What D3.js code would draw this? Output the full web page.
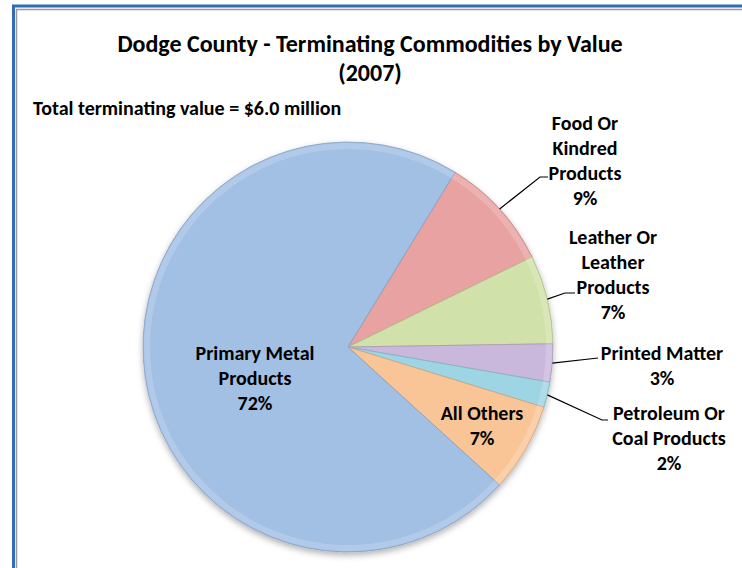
<!DOCTYPE html>
<html>
<head>
<meta charset="utf-8">
<script src="https://cdn.jsdelivr.net/npm/d3@7"></script>
<style>
  html, body { margin: 0; padding: 0; background: #fff; }
  svg { display: block; }
  text { font-family: Carlito, Calibri, Lato, "Liberation Sans", sans-serif; font-weight: bold; fill: #000; }
</style>
</head>
<body>
<svg id="chart" width="742" height="568"></svg>
<script>
// ---- data ----
const categories = ["Food Or Kindred Products", "Leather Or Leather Products", "Printed Matter",
                    "Petroleum Or Coal Products", "All Others", "Primary Metal Products"];
const labelLines = [["Food Or", "Kindred", "Products"], ["Leather Or", "Leather", "Products"], ["Printed Matter"],
                    ["Petroleum Or", "Coal Products"], ["All Others"], ["Primary Metal", "Products"]];
const percents = [9, 7, 3, 2, 7, 72];
const colors = ["#e8a2a1", "#d0e1a9", "#c9b8dc", "#9dd5e4", "#f9c597", "#a2bfe4"];
const titleLines = ["Dodge County - Terminating Commodities by Value", "(2007)"];
const subtitle = "Total terminating value = $6.0 million";

// ---- layout ----
const svg = d3.select("#chart");
const cx = 348, cy = 347, R = 205;

// frame
svg.append("rect").attr("x", 13.5).attr("y", 6).attr("width", 800).attr("height", 600)
  .attr("fill", "none").attr("stroke", "#2f6db5").attr("stroke-width", 3);
svg.append("rect").attr("x", 16.5).attr("y", 9.5).attr("width", 800).attr("height", 600)
  .attr("fill", "none").attr("stroke", "#9a9a9a").attr("stroke-width", 1.5);

// titles
svg.append("text").attr("x", 370).attr("y", 52).attr("text-anchor", "middle")
  .style("font-size", "24px").text(titleLines[0]);
svg.append("text").attr("x", 370).attr("y", 81).attr("text-anchor", "middle")
  .style("font-size", "24px").text(titleLines[1]);
svg.append("text").attr("x", 33).attr("y", 115).attr("text-anchor", "start")
  .style("font-size", "20px").text(subtitle);

// defs
const defs = svg.append("defs");
const f = defs.append("filter").attr("id", "shadow").attr("x", "-20%").attr("y", "-20%")
  .attr("width", "140%").attr("height", "140%");
f.append("feDropShadow").attr("dx", 0).attr("dy", 3).attr("stdDeviation", 3)
  .attr("flood-color", "#000").attr("flood-opacity", 0.3);

const data = categories.map((c, i) => ({ name: c, value: percents[i], color: colors[i], lines: labelLines[i] }));
const startA = 31.5 * Math.PI / 180;
const pie = d3.pie().value(d => d.value).sort(null).startAngle(startA).endAngle(startA + 2 * Math.PI);
const arcs = pie(data);
const arc = d3.arc().innerRadius(0).outerRadius(R);
const rim = d3.arc().innerRadius(R - 7).outerRadius(R - 1);

const g = svg.append("g").attr("transform", `translate(${cx},${cy})`);
const shadowG = g.append("g").attr("filter", "url(#shadow)");
shadowG.selectAll("path.slice").data(arcs).join("path").attr("class", "slice")
  .attr("d", arc).attr("fill", d => d.data.color)
  .attr("stroke", d => d3.color(d.data.color).darker(0.5)).attr("stroke-width", 0.8);
// bevel-like rim highlight
g.selectAll("path.rim").data(arcs).join("path").attr("class", "rim")
  .attr("d", rim).attr("fill", "#fff").attr("opacity", 0.18);

// labels
const fs = 20, lh = 25;
// label placement: centre x, first line centre y, leader elbow points
const labelPos = [
  { x: 585, y: 123, leader: [[540, 177], [548, 177]] },
  { x: 613, y: 237, leader: [[565, 293], [575, 293]] },
  { x: 662, y: 353, leader: [[598, 358]] },
  { x: 669, y: 413, leader: [[602, 420], [608, 420]] },
  { x: 482, y: 413, leader: null },
  { x: 255, y: 353, leader: null }
];
arcs.forEach((a, i) => {
  const p = labelPos[i];
  const lines = a.data.lines.concat([d3.format(".0f")(a.data.value) + "%"]);
  const t = svg.append("text").attr("text-anchor", "middle").style("font-size", fs + "px");
  lines.forEach((ln, k) => {
    t.append("tspan").attr("x", p.x).attr("y", p.y + k * lh + fs * 0.35).text(ln);
  });
  if (p.leader) {
    const mid = (a.startAngle + a.endAngle) / 2;
    const s = [cx + R * Math.sin(mid), cy - R * Math.cos(mid)];
    svg.append("path").attr("d", d3.line()([s].concat(p.leader)))
      .attr("fill", "none").attr("stroke", "#000").attr("stroke-width", 1.2);
  }
});
</script>
</body>
</html>
